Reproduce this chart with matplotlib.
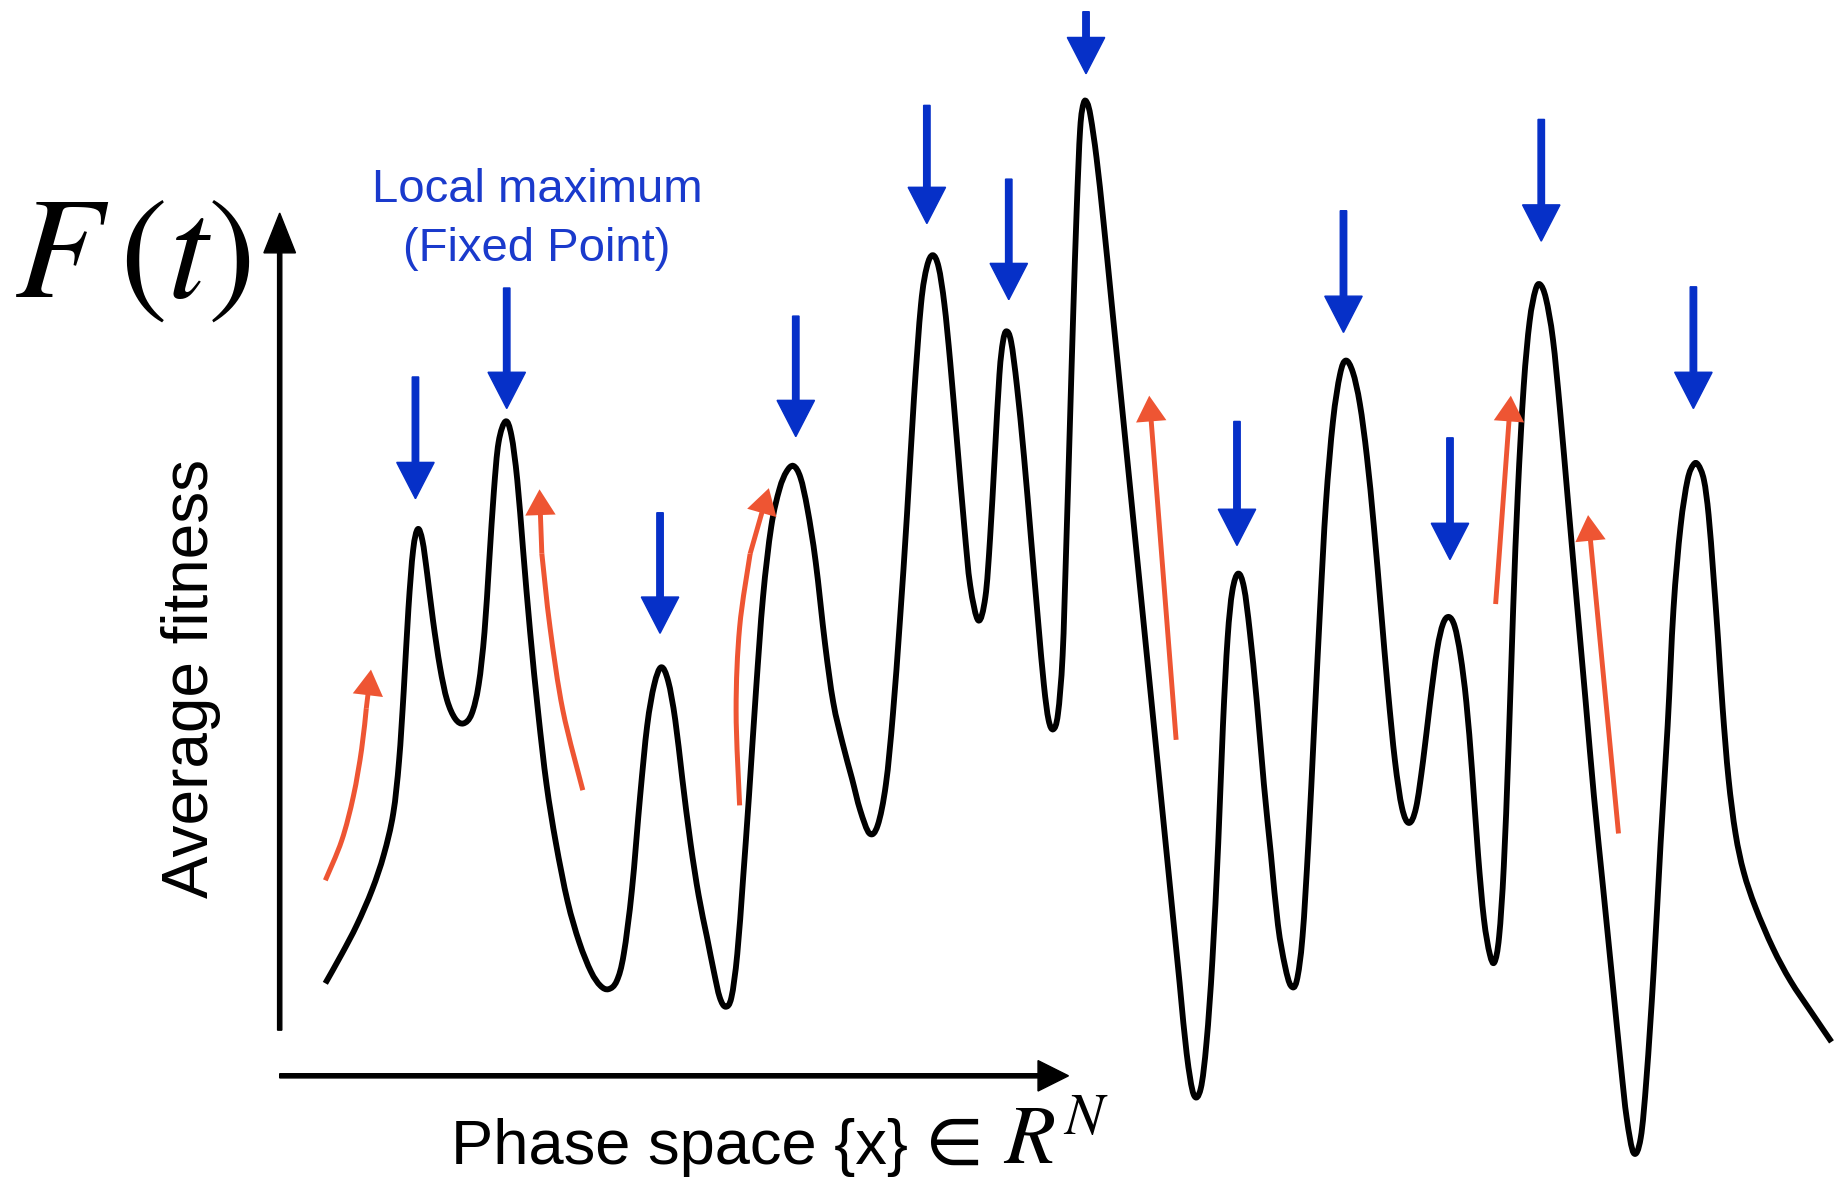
import matplotlib
matplotlib.use("Agg")
import matplotlib.pyplot as plt
from matplotlib.path import Path
from matplotlib.patches import PathPatch

# fitness landscape, traced in pixel units of the picture (y grows downwards)
curve_x = [278, 292, 305, 318, 328, 336, 341, 345, 349, 353, 357, 361, 365,
           370, 376, 382, 389, 396, 403, 409, 414, 418, 422, 426, 432, 437, 442,
           447, 453, 460, 467, 475, 485, 495, 505, 513, 520, 527, 533, 540, 547, 553, 559, 565, 571, 577,
           583, 590, 597, 604, 610, 615, 620, 625, 630, 635, 640, 646, 652, 659, 666, 672, 678, 684, 690,
           697, 705, 712, 720, 728, 735, 743, 750, 757, 763, 769, 775, 781, 787, 792, 797, 802, 807,
           812, 818, 824, 829, 836, 842, 846, 850, 854, 857, 860, 864, 869,
           875, 881, 887, 892, 896, 900, 904, 908, 911, 914, 917, 920, 923, 926, 929, 932, 937, 943,
           950, 960, 970, 980, 990, 1000, 1008, 1014, 1020, 1026, 1031, 1036, 1041, 1045, 1049, 1053, 1058, 1063, 1068,
           1074, 1080, 1086, 1092, 1098, 1103, 1108, 1113, 1118, 1123, 1128, 1133, 1139, 1145, 1150, 1156, 1162,
           1168, 1174, 1180, 1186, 1192, 1198, 1204, 1210, 1216, 1222, 1228, 1233, 1238, 1243, 1248,
           1253, 1258, 1263, 1268, 1273, 1277, 1281, 1285, 1289, 1293, 1297, 1302, 1307, 1312, 1316, 1321, 1327,
           1333, 1340, 1347, 1355, 1362, 1370, 1378, 1385, 1390, 1396, 1402, 1407, 1413, 1419, 1425, 1430, 1436,
           1442, 1447, 1451, 1456, 1460, 1464, 1468, 1472, 1477, 1483, 1490, 1500, 1515, 1530, 1548, 1565]
curve_y = [840, 815, 790, 760, 730, 695, 650, 590, 520, 470, 452, 462, 490,
           530, 570, 598, 614, 618, 610, 585, 540, 480, 420, 378, 360, 372, 410,
           470, 540, 610, 670, 720, 770, 805, 830, 842, 845, 838, 815, 760, 680, 620, 585, 570, 582, 615,
           665, 720, 765, 800, 830, 852, 860, 852, 815, 750, 680, 590, 510, 450, 418, 403, 398, 408, 435,
           480, 550, 600, 635, 665, 692, 712, 705, 670, 610, 530, 440, 340, 260, 228, 218, 228, 260,
           310, 380, 450, 500, 530, 510, 460, 390, 320, 292, 283, 292, 330,
           390, 460, 530, 585, 615, 623, 610, 560, 470, 370, 270, 180, 110, 88, 88, 100, 135, 190,
           260, 360, 460, 560, 660, 760, 840, 900, 935, 930, 890, 820, 720, 620, 545, 505, 490, 502, 540,
           600, 670, 730, 790, 825, 842, 838, 800, 720, 620, 520, 430, 360, 320, 308, 318, 345,
           390, 450, 520, 590, 650, 690, 703, 690, 650, 600, 555, 533, 527, 535, 560,
           600, 660, 730, 785, 815, 822, 800, 740, 640, 520, 420, 330, 275, 248, 243, 255, 290,
           350, 430, 510, 600, 680, 760, 840, 910, 955, 985, 972, 920, 830, 720, 620, 520, 450,
           410, 397, 397, 410, 440, 490, 545, 605, 665, 712, 745, 775, 810, 838, 865, 890]

# local maxima markers (blue): x, shaft top, arrow tip
max_x = [355, 433, 564, 680, 792, 862, 928, 1057, 1148, 1239, 1317, 1447]
max_top = [322, 246, 438, 270, 90, 153, 10, 360, 180, 374, 102, 245]
max_tip = [426, 349, 541, 373, 191, 256, 63, 466, 284, 478, 206, 349]

# uphill moves (red), each a list of (x, y) ending at the tip
climb_paths = [
    [(278, 752), (292, 718), (302, 680), (309, 640), (313, 605), (317, 572)],
    [(498, 675), (481, 607), (470, 536), (463, 473), (461, 418)],
    [(632, 688), (629, 607), (632, 536), (641, 473), (657, 417)],
    [(1005, 632), (982, 338)],
    [(1278, 516), (1291, 338)],
    [(1383, 712), (1357, 440)],
]

blue = "#0630c8"
red = "#ee5533"


def smooth_path(xs, ys):
    # Catmull-Rom through the traced points, drawn as cubic Bezier pieces
    pts = list(zip(xs, ys))
    verts = [pts[0]]
    codes = [Path.MOVETO]
    n = len(pts)
    for i in range(n - 1):
        p0 = pts[max(i - 1, 0)]
        p1 = pts[i]
        p2 = pts[i + 1]
        p3 = pts[min(i + 2, n - 1)]
        c1 = (p1[0] + (p2[0] - p0[0]) / 6, p1[1] + (p2[1] - p0[1]) / 6)
        c2 = (p2[0] - (p3[0] - p1[0]) / 6, p2[1] - (p3[1] - p1[1]) / 6)
        verts += [c1, c2, p2]
        codes += [Path.CURVE4] * 3
    return Path(verts, codes)


fig = plt.figure(figsize=(18.35, 11.8), dpi=100)
ax = fig.add_axes([0, 0, 1, 1])
ax.set_xlim(0, 1568)
ax.set_ylim(1008, 0)
ax.axis("off")

# axes arrows
ax.arrow(239, 880, 0, -698, width=3.6, head_width=27, head_length=34,
         length_includes_head=True, color="black")
ax.arrow(239, 919, 674, 0, width=3.6, head_width=26, head_length=26,
         length_includes_head=True, color="black")

ax.add_patch(PathPatch(smooth_path(curve_x, curve_y), fill=False, edgecolor="black",
                       lw=4.2, joinstyle="round", capstyle="butt", zorder=3))

for x, top, tip in zip(max_x, max_top, max_tip):
    ax.arrow(x, top, 0, tip - top, width=5.5, head_width=32, head_length=31,
             length_includes_head=True, color=blue, zorder=4)

for path in climb_paths:
    xs = [p[0] for p in path]
    ys = [p[1] for p in path]
    (x0, y0), (x1, y1) = path[-2], path[-1]
    if len(path) > 2:
        ax.add_patch(PathPatch(smooth_path(xs[:-1], ys[:-1]), fill=False,
                               edgecolor=red, lw=3.6, capstyle="butt", zorder=4))
    ax.arrow(x0, y0, x1 - x0, y1 - y0, width=4.2, head_width=26, head_length=22,
             length_includes_head=True, color=red, lw=0, zorder=4)

plt.rcParams["mathtext.fontset"] = "stix"
ax.text(12, 253, r"$F\,(t)$", fontsize=104, ha="left", va="baseline")
ax.text(163, 580, "Average fitness", family="Liberation Sans", fontsize=46,
        rotation=90, ha="center", va="center")
ax.text(459, 162, "Local maximum", family="Liberation Sans", fontsize=34,
        color="#1a3acc", ha="center", va="center")
ax.text(459, 213, "(Fixed Point)", family="Liberation Sans", fontsize=34,
        color="#1a3acc", ha="center", va="center")
ax.text(385, 994, "Phase space {x}", family="Liberation Sans", fontsize=45.5,
        ha="left", va="baseline")
ax.text(780, 994, r"$\in\,R^N$", fontsize=60, ha="left", va="baseline")

fig.savefig("out.png", dpi=100)
